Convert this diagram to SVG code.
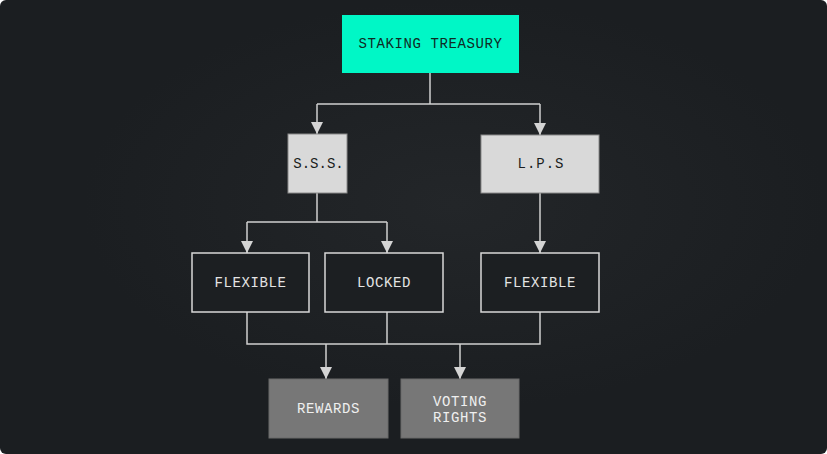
<svg xmlns="http://www.w3.org/2000/svg" width="827" height="454" viewBox="0 0 827 454">
<defs>
<radialGradient id="bg" cx="0.55" cy="0.45" r="0.45">
<stop offset="0" stop-color="#232629"/>
<stop offset="1" stop-color="#1b1e21"/>
</radialGradient>
<style>
.t{font-family:"Liberation Mono","DejaVu Sans Mono",monospace;font-size:14px;letter-spacing:0.6px;text-anchor:middle;dominant-baseline:central}
.c{fill:none;stroke:#d0d0d0;stroke-width:1.5}
.dark{fill:#1c1f22;stroke:#d8d8d8;stroke-width:1.5}
.light{fill:#d9d9d9;stroke:#8a8a8a;stroke-width:1}
.grey{fill:#777777;stroke:#6a6a6a;stroke-width:1}
</style>
</defs>
<rect x="0" y="0" width="827" height="454" rx="6" fill="url(#bg)"/>
<g id="connectors">
<path class="c" d="M430,73 V104 M317,104 H540"/>
<line class="c" x1="317" y1="104" x2="317" y2="134"/>
<line class="c" x1="540" y1="104" x2="540" y2="135"/>
<path class="c" d="M317,193 V222 M247,222 H387"/>
<line class="c" x1="247" y1="222" x2="247" y2="253"/>
<line class="c" x1="387" y1="222" x2="387" y2="253"/>
<line class="c" x1="540" y1="193" x2="540" y2="253"/>
<path class="c" d="M247,312 V344 H540 V312 M387,312 V344"/>
<line class="c" x1="326" y1="344" x2="326" y2="379"/>
<line class="c" x1="460" y1="344" x2="460" y2="379"/>
<g fill="#d4d4d4">
<path d="M311,122 L323,122 L317,134 Z"/>
<path d="M534,123 L546,123 L540,135 Z"/>
<path d="M241,241 L253,241 L247,253 Z"/>
<path d="M381,241 L393,241 L387,253 Z"/>
<path d="M534,241 L546,241 L540,253 Z"/>
<path d="M320,367 L332,367 L326,379 Z"/>
<path d="M454,367 L466,367 L460,379 Z"/>
</g>
</g>
<g id="staking-treasury">
<rect x="342" y="15" width="177" height="58" fill="#00f7c6"/>
<text class="t" x="430.5" y="44" fill="#0f2a24">STAKING TREASURY</text>
</g>
<g id="sss">
<rect class="light" x="288" y="134" width="59" height="59"/>
<text class="t" x="318.5" y="163.5" fill="#1b1e21" style="letter-spacing:0px">S.S.S.</text>
</g>
<g id="lps">
<rect class="light" x="481" y="135" width="118" height="58"/>
<text class="t" x="541" y="164" fill="#1b1e21" style="letter-spacing:1px">L.P.S</text>
</g>
<g id="flexible-1">
<rect class="dark" x="192" y="253" width="117" height="59"/>
<text class="t" x="250.5" y="282.5" fill="#e4e4e4">FLEXIBLE</text>
</g>
<g id="locked">
<rect class="dark" x="325" y="253" width="118" height="59"/>
<text class="t" x="384" y="282.5" fill="#e4e4e4">LOCKED</text>
</g>
<g id="flexible-2">
<rect class="dark" x="481" y="253" width="118" height="59"/>
<text class="t" x="540" y="282.5" fill="#e4e4e4">FLEXIBLE</text>
</g>
<g id="rewards">
<rect class="grey" x="269" y="379" width="119" height="59"/>
<text class="t" x="328.5" y="408.5" fill="#efefef">REWARDS</text>
</g>
<g id="voting-rights">
<rect class="grey" x="401" y="379" width="118" height="59"/>
<text class="t" x="460" y="401.5" fill="#efefef">VOTING</text>
<text class="t" x="460" y="417.5" fill="#efefef">RIGHTS</text>
</g>
</svg>
